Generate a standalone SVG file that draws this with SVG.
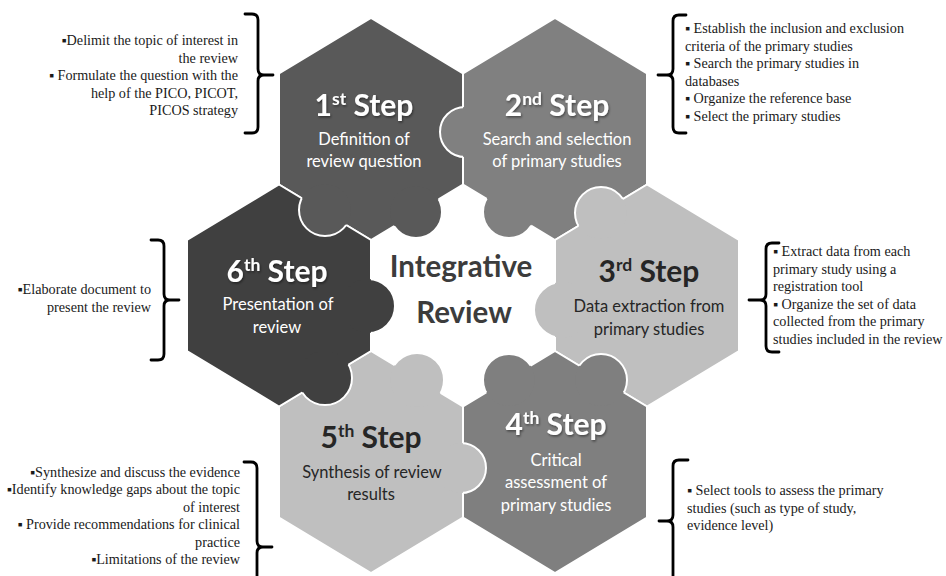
<svg xmlns="http://www.w3.org/2000/svg" width="946" height="576" viewBox="0 0 946 576">
<style>
.hx{stroke:#fff;stroke-width:2;stroke-linejoin:round}
.arc{fill:none;stroke:#fff;stroke-width:2}
.t{font-family:Lato,"Open Sans",sans-serif;font-weight:700;font-size:30px;text-anchor:middle}
.s{font-family:Lato,"Open Sans",sans-serif;font-size:16.5px;text-anchor:middle}
.w{fill:#fff}
.d{fill:#262626}
.c{font-family:Lato,"Open Sans",sans-serif;font-weight:700;font-size:29.5px;text-anchor:middle;fill:#3c3c3c}
.n{font-family:"Liberation Serif","DejaVu Serif",serif;font-size:14.2px;fill:#1a1a1a}
.r{text-anchor:end}
.br{fill:none;stroke:#000;stroke-width:2.8;stroke-linecap:round;stroke-linejoin:round}
</style>
<defs>
<filter id="sh" x="-10%" y="-20%" width="130%" height="150%"><feDropShadow dx="1" dy="1.5" stdDeviation="1" flood-color="#000" flood-opacity="0.45"/></filter>
<clipPath id="o1"><path clip-rule="evenodd" d="M-10 -10H960V590H-10Z M371 18L463 73.5L463 184.5L371 240L279 184.5L279 73.5Z"/></clipPath>
<clipPath id="o2"><path clip-rule="evenodd" d="M-10 -10H960V590H-10Z M555 18L647 73.5L647 184.5L555 240L463 184.5L463 73.5Z"/></clipPath>
<clipPath id="o3"><path clip-rule="evenodd" d="M-10 -10H960V590H-10Z M647 184.5L739 240L739 351L647 406.5L555 351L555 240Z"/></clipPath>
<clipPath id="o4"><path clip-rule="evenodd" d="M-10 -10H960V590H-10Z M555 351L647 406.5L647 517.5L555 573L463 517.5L463 406.5Z"/></clipPath>
<clipPath id="o5"><path clip-rule="evenodd" d="M-10 -10H960V590H-10Z M371 351L463 406.5L463 517.5L371 573L279 517.5L279 406.5Z"/></clipPath>
<clipPath id="o6"><path clip-rule="evenodd" d="M-10 -10H960V590H-10Z M279 184.5L371 240L371 351L279 406.5L187 351L187 240Z"/></clipPath>
</defs>

<g id="puzzle">
<polygon id="piece-1" class="hx" fill="#595959" points="371,18 463,73.5 463,184.5 371,240 279,184.5 279,73.5"/>
<polygon id="piece-2" class="hx" fill="#808080" points="555,18 647,73.5 647,184.5 555,240 463,184.5 463,73.5"/>
<polygon id="piece-3" class="hx" fill="#bfbfbf" points="647,184.5 739,240 739,351 647,406.5 555,351 555,240"/>
<polygon id="piece-4" class="hx" fill="#7f7f7f" points="555,351 647,406.5 647,517.5 555,573 463,517.5 463,406.5"/>
<polygon id="piece-5" class="hx" fill="#bfbfbf" points="371,351 463,406.5 463,517.5 371,573 279,517.5 279,406.5"/>
<polygon id="piece-6" class="hx" fill="#404040" points="279,184.5 371,240 371,351 279,406.5 187,351 187,240"/>
</g>

<g id="tabs">
<circle cx="325" cy="210" r="26" fill="#595959"/><circle cx="325" cy="210" r="26" class="arc" clip-path="url(#o1)"/>
<circle cx="416" cy="212" r="26" fill="#595959"/><circle cx="416" cy="212" r="26" class="arc" clip-path="url(#o1)"/>
<circle cx="465" cy="132" r="25" fill="#808080"/><circle cx="465" cy="132" r="25" class="arc" clip-path="url(#o2)"/>
<circle cx="509" cy="212" r="26" fill="#808080"/><circle cx="509" cy="212" r="26" class="arc" clip-path="url(#o2)"/>
<circle cx="601" cy="213" r="26" fill="#bfbfbf"/><circle cx="601" cy="213" r="26" class="arc" clip-path="url(#o3)"/>
<circle cx="562" cy="310" r="28" fill="#bfbfbf"/><circle cx="562" cy="310" r="28" class="arc" clip-path="url(#o3)"/>
<circle cx="601" cy="380" r="26" fill="#7f7f7f"/><circle cx="601" cy="380" r="26" class="arc" clip-path="url(#o4)"/>
<circle cx="509" cy="380" r="26" fill="#7f7f7f"/><circle cx="509" cy="380" r="26" class="arc" clip-path="url(#o4)"/>
<circle cx="461" cy="468" r="25" fill="#bfbfbf"/><circle cx="461" cy="468" r="25" class="arc" clip-path="url(#o5)"/>
<circle cx="417" cy="380" r="27" fill="#bfbfbf"/><circle cx="417" cy="380" r="27" class="arc" clip-path="url(#o5)"/>
<circle cx="325" cy="378" r="27" fill="#404040"/><circle cx="325" cy="378" r="27" class="arc" clip-path="url(#o6)"/>
<circle cx="368" cy="306" r="27" fill="#404040"/><circle cx="368" cy="306" r="27" class="arc" clip-path="url(#o6)"/>
</g>

<g id="center">
<text class="c" x="461" y="277">Integrative</text>
<text class="c" x="464" y="323">Review</text>
</g>

<g id="step-1">
<text class="t w" filter="url(#sh)" x="364" y="116">1<tspan font-size="17.5" dy="-11">st</tspan><tspan dy="11"> Step</tspan></text>
<text class="s w" x="364" y="145">Definition of</text>
<text class="s w" x="364" y="167">review question</text>
<path class="br" d="M245,14 H252 Q258,14 258,20 V69 Q258,75 264,75 H273 M264,75 Q258,75 258,81 V127 Q258,133 252,133 H245"/>
<text class="n r" x="238" y="45">▪Delimit the topic of interest in</text>
<text class="n r" x="238" y="62.5">the review</text>
<text class="n r" x="238" y="80">▪ Formulate the question with the</text>
<text class="n r" x="238" y="97.5">help of the PICO, PICOT,</text>
<text class="n r" x="238" y="115">PICOS strategy</text>
</g>

<g id="step-2">
<text class="t w" filter="url(#sh)" x="557" y="116">2<tspan font-size="17.5" dy="-11">nd</tspan><tspan dy="11"> Step</tspan></text>
<text class="s w" x="557" y="145">Search and selection</text>
<text class="s w" x="557" y="167">of primary studies</text>
<path class="br" d="M686,15 H679 Q673,15 673,21 V69 Q673,75 667,75 H658 M667,75 Q673,75 673,81 V127 Q673,133 679,133 H686"/>
<text class="n" x="685" y="33">▪ Establish the inclusion and exclusion</text>
<text class="n" x="685" y="50.5">criteria of the primary studies</text>
<text class="n" x="685" y="68">▪ Search the primary studies in</text>
<text class="n" x="685" y="85.5">databases</text>
<text class="n" x="685" y="103">▪ Organize the reference base</text>
<text class="n" x="685" y="120.5">▪ Select the primary studies</text>
</g>

<g id="step-3">
<text class="t d" x="649" y="282">3<tspan font-size="17.5" dy="-11">rd</tspan><tspan dy="11"> Step</tspan></text>
<text class="s d" x="649" y="312">Data extraction from</text>
<text class="s d" x="649" y="335">primary studies</text>
<path class="br" d="M779,243 H772 Q766,243 766,249 V294 Q766,300 760,300 H749 M760,300 Q766,300 766,306 V346 Q766,352 772,352 H779"/>
<text class="n" x="773" y="256">▪ Extract data from each</text>
<text class="n" x="773" y="273.5">primary study using a</text>
<text class="n" x="773" y="291">registration tool</text>
<text class="n" x="773" y="308.5">▪ Organize the set of data</text>
<text class="n" x="773" y="326">collected from the primary</text>
<text class="n" x="773" y="343.5">studies included in the review</text>
</g>

<g id="step-4">
<text class="t w" filter="url(#sh)" x="556" y="435">4<tspan font-size="17.5" dy="-11">th</tspan><tspan dy="11"> Step</tspan></text>
<text class="s w" x="556" y="466">Critical</text>
<text class="s w" x="556" y="488">assessment of</text>
<text class="s w" x="556" y="511">primary studies</text>
<path class="br" d="M688,460 H679 Q673,460 673,466 V515 Q673,521 667,521 H659 M667,521 Q673,521 673,527 V576 Q673,582 679,582 H688"/>
<text class="n" x="687" y="495">▪ Select tools to assess the primary</text>
<text class="n" x="687" y="512.5">studies (such as type of study,</text>
<text class="n" x="687" y="530">evidence level)</text>
</g>

<g id="step-5">
<text class="t d" x="371" y="448">5<tspan font-size="17.5" dy="-11">th</tspan><tspan dy="11"> Step</tspan></text>
<text class="s d" x="372" y="478">Synthesis of review</text>
<text class="s d" x="371" y="500">results</text>
<path class="br" d="M244,462 H251 Q257,462 257,468 V541 Q257,547 263,547 H272 M263,547 Q257,547 257,553 V626 Q257,632 251,632 H244"/>
<text class="n r" x="240" y="476.5">▪Synthesize and discuss the evidence</text>
<text class="n r" x="240" y="494">▪Identify knowledge gaps about the topic</text>
<text class="n r" x="240" y="511.5">of interest</text>
<text class="n r" x="240" y="529">▪ Provide recommendations for clinical</text>
<text class="n r" x="240" y="546.5">practice</text>
<text class="n r" x="240" y="564">▪Limitations of the review</text>
</g>

<g id="step-6">
<text class="t w" filter="url(#sh)" x="277" y="282">6<tspan font-size="17.5" dy="-11">th</tspan><tspan dy="11"> Step</tspan></text>
<text class="s w" x="278" y="310">Presentation of</text>
<text class="s w" x="277" y="333">review</text>
<path class="br" d="M151,240 H158 Q164,240 164,246 V294 Q164,300 170,300 H179 M170,300 Q164,300 164,306 V354 Q164,360 158,360 H151"/>
<text class="n r" x="151" y="294">▪Elaborate document to</text>
<text class="n r" x="151" y="311.5">present the review</text>
</g>
</svg>
